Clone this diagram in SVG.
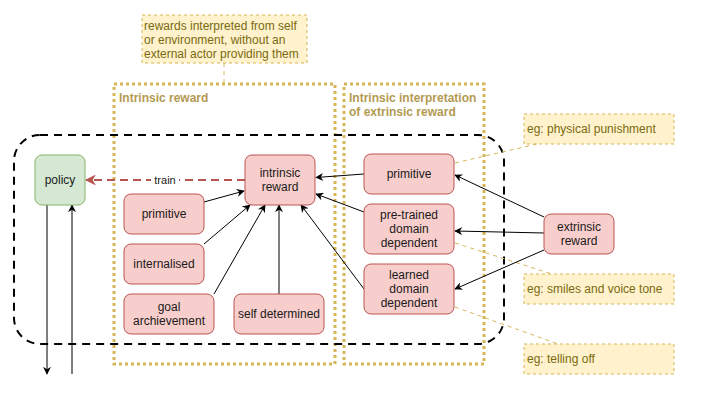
<svg xmlns="http://www.w3.org/2000/svg" width="702" height="409" viewBox="0 0 702 409">
<defs>
<style>
text{font-family:"Liberation Sans",Arial,sans-serif;font-size:12px;}
.node{fill:#f8cecc;stroke:#b85450;stroke-width:1;}
.nt{fill:#1a1a1a;text-anchor:middle;}
.note{fill:#fff2cc;stroke:#d6b656;stroke-width:1;stroke-dasharray:3,3;}
.notet{fill:#7a6a10;}
.cont{fill:none;stroke:#d6b656;stroke-width:3;stroke-dasharray:3,3;}
.ctitle{fill:#b39a52;font-weight:bold;}
.edge{fill:none;stroke:#000;stroke-width:1;}
.nl{fill:none;stroke:#d6b656;stroke-width:1;stroke-dasharray:4,4;}
</style>
<marker id="ab" viewBox="0 0 10 10" refX="9" refY="5" markerWidth="8" markerHeight="8" markerUnits="userSpaceOnUse" orient="auto"><path d="M0,0 L10,5 L0,10 L3,5 z" fill="#000"/></marker>
<marker id="ar" viewBox="0 0 10 10" refX="9" refY="5" markerWidth="11" markerHeight="11" markerUnits="userSpaceOnUse" orient="auto"><path d="M0,0 L10,5 L0,10 L3,5 z" fill="#b85450"/></marker>
</defs>
<rect width="702" height="409" fill="#fff"/>

<g id="container-intrinsic">
<rect class="cont" x="114" y="84" width="221" height="280"/>
<text class="ctitle" x="119" y="102">Intrinsic reward</text>
</g>
<g id="container-extrinsic">
<rect class="cont" x="344" y="84" width="140" height="280"/>
<text class="ctitle" x="349" y="102">Intrinsic interpretation</text>
<text class="ctitle" x="349" y="116">of extrinsic reward</text>
</g>

<g id="boundary">
<rect x="14" y="135" width="490" height="209" rx="26" ry="26" fill="none" stroke="#000" stroke-width="2" stroke-dasharray="8,6"/>
</g>

<g id="note-intrinsic">
<rect class="note" x="142" y="15" width="165" height="48"/>
<text class="notet" x="144" y="30">rewards interpreted from self</text>
<text class="notet" x="144" y="44">or environment, without an</text>
<text class="notet" x="144" y="58">external actor providing them</text>
</g>
<g id="note-punish">
<rect class="note" x="524" y="114" width="150" height="30"/>
<text class="notet" x="527" y="133">eg: physical punishment</text>
</g>
<g id="note-smiles">
<rect class="note" x="524" y="274" width="150" height="30"/>
<text class="notet" x="527" y="293">eg: smiles and voice tone</text>
</g>
<g id="note-telling">
<rect class="note" x="524" y="344" width="150" height="30"/>
<text class="notet" x="527" y="363">eg: telling off</text>
</g>

<g id="connectors">
<path class="nl" d="M224,63 L224,84"/>
<path class="nl" d="M455,163 L537,144"/>
<path class="nl" d="M455,243 L552,274"/>
<path class="nl" d="M455,307 L558,344"/>

<path d="M245,180 L86,180" fill="none" stroke="#b85450" stroke-width="2" stroke-dasharray="8,5" marker-end="url(#ar)"/>
<rect x="151" y="173" width="28" height="14" fill="#fff"/>
<text class="nt" x="165" y="184" style="font-size:11px">train</text>

<path class="edge" d="M544,217 L455,175" marker-end="url(#ab)"/>
<path class="edge" d="M544,233 L455,231" marker-end="url(#ab)"/>
<path class="edge" d="M544,250 L455,289" marker-end="url(#ab)"/>

<path class="edge" d="M364,174 L316,177.5" marker-end="url(#ab)"/>
<path class="edge" d="M364,212 L316,194" marker-end="url(#ab)"/>
<path class="edge" d="M364,289 L301,205" marker-end="url(#ab)"/>

<path class="edge" d="M204,202 L244,191" marker-end="url(#ab)"/>
<path class="edge" d="M204,244 L250,205" marker-end="url(#ab)"/>
<path class="edge" d="M214,294 L265,205" marker-end="url(#ab)"/>
<path class="edge" d="M279,294 L279,205" marker-end="url(#ab)"/>

<path class="edge" d="M47,205 L47,374" marker-end="url(#ab)"/>
<path class="edge" d="M72,374 L72,205" marker-end="url(#ab)"/>
</g>

<g id="policy">
<rect x="35" y="155" width="50" height="50" rx="7" fill="#d5e8d4" stroke="#82b366"/>
<text class="nt" x="60" y="184">policy</text>
</g>
<g id="intrinsic-reward">
<rect class="node" x="245" y="155" width="70" height="50" rx="7"/>
<text class="nt" x="280" y="177">intrinsic</text>
<text class="nt" x="280" y="191">reward</text>
</g>
<g id="primitive-left">
<rect class="node" x="124" y="194" width="80" height="40" rx="7"/>
<text class="nt" x="164" y="218">primitive</text>
</g>
<g id="internalised">
<rect class="node" x="124" y="244" width="80" height="40" rx="7"/>
<text class="nt" x="164" y="268">internalised</text>
</g>
<g id="goal">
<rect class="node" x="124" y="294" width="90" height="40" rx="7"/>
<text class="nt" x="169" y="311">goal</text>
<text class="nt" x="169" y="325">archievement</text>
</g>
<g id="self-determined">
<rect class="node" x="234" y="294" width="90" height="40" rx="7"/>
<text class="nt" x="279" y="318">self determined</text>
</g>
<g id="primitive-right">
<rect class="node" x="364" y="154" width="90" height="40" rx="7"/>
<text class="nt" x="409" y="178">primitive</text>
</g>
<g id="pre-trained">
<rect class="node" x="364" y="204" width="90" height="50" rx="7"/>
<text class="nt" x="409" y="219">pre-trained</text>
<text class="nt" x="409" y="233">domain</text>
<text class="nt" x="409" y="247">dependent</text>
</g>
<g id="learned">
<rect class="node" x="364" y="264" width="90" height="50" rx="7"/>
<text class="nt" x="409" y="279">learned</text>
<text class="nt" x="409" y="293">domain</text>
<text class="nt" x="409" y="307">dependent</text>
</g>
<g id="extrinsic-reward">
<rect class="node" x="544" y="214" width="70" height="40" rx="7"/>
<text class="nt" x="579" y="231">extrinsic</text>
<text class="nt" x="579" y="245">reward</text>
</g>
</svg>
